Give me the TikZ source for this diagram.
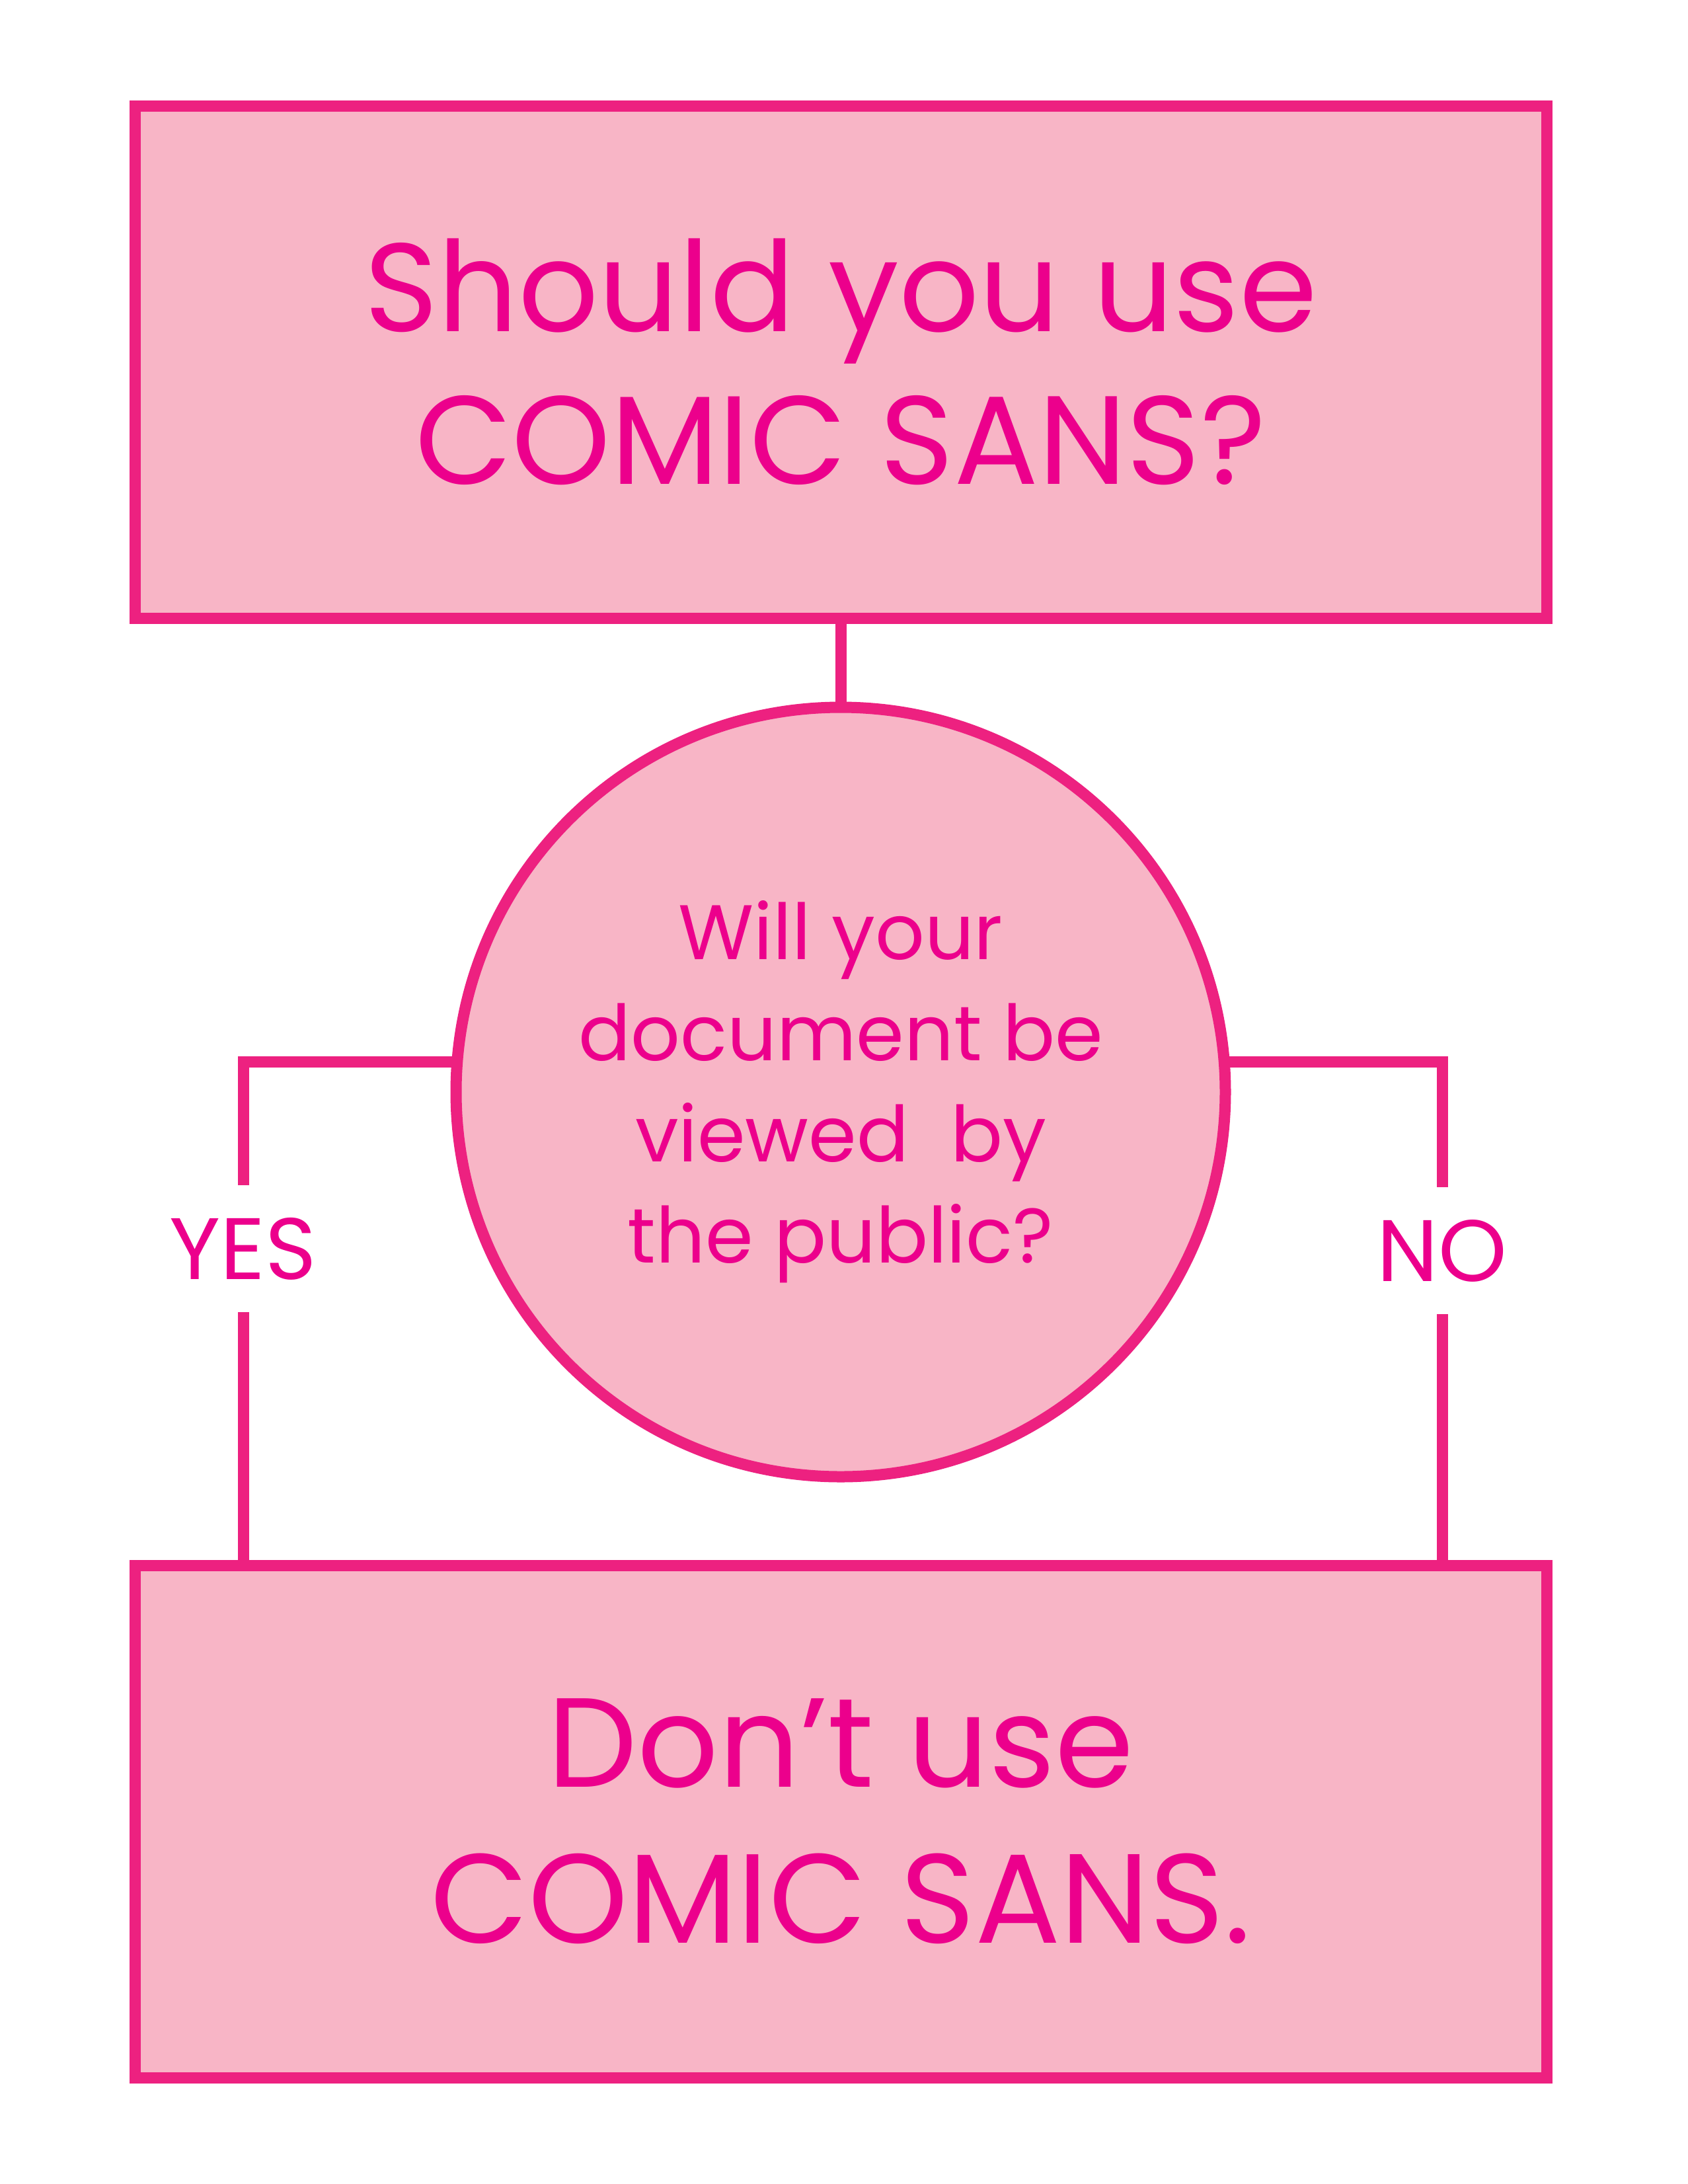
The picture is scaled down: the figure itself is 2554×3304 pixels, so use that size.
\documentclass[tikz,border=0pt]{standalone}
\usepackage{fontspec}
\setmainfont{Poppins}
\usetikzlibrary{calc}
\definecolor{edgepink}{HTML}{ED2180}
\definecolor{fillpink}{HTML}{F8B5C6}
\definecolor{textpink}{HTML}{EC008C}
\tikzset{
  box/.style={draw=edgepink, fill=fillpink, line width=17pt, minimum width=2136pt, minimum height=775pt, inner sep=0pt, align=center, text=textpink},
  qcircle/.style={circle, draw=edgepink, fill=fillpink, line width=17pt, minimum size=1164pt, inner sep=0pt, align=center, text=textpink},
  link/.style={draw=edgepink, line width=17pt},
  answer/.style={text=textpink, minimum height=192pt, inner sep=0pt, font=\fontsize{132}{150}\selectfont}
}
\begin{document}
\begin{tikzpicture}[x=1pt,y=-1pt]
\useasboundingbox (0,0) rectangle (2554,3304);
\node[box, font=\fontsize{190}{231}\selectfont] (top) at (1272,547.5) {Should you use\\COMIC SANS?};
\node[qcircle, font=\fontsize{117}{153}\selectfont] (circ) at (1272,1652) {Will your\\document be\\viewed\ \ by\\the public?};
\node[box, font=\fontsize{192}{236}\selectfont] (bot) at (1272,2755.5) {Don’t use\\COMIC SANS.};
\node[answer] (yes) at (368,1889) {YES};
\node[answer] (no) at (2182,1892) {NO};
\coordinate (lrow) at (0,1606);
\coordinate (yesfoot) at (368,2368);
\coordinate (nofoot) at (2182,2368);
\draw[link] (top.south) -- (circ.north);
\draw[link] ($(circ.west |- lrow)+(12,0)$) -| (yes.north);
\draw[link] (yes.south) -- (yesfoot);
\draw[link] ($(circ.east |- lrow)+(-12,0)$) -| (no.north);
\draw[link] (no.south) -- (nofoot);
\end{tikzpicture}
\end{document}
